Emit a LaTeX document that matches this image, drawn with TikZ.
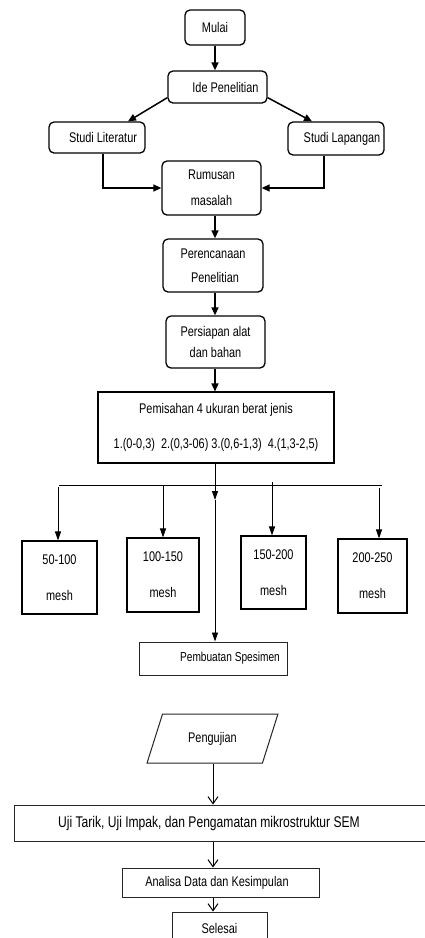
\documentclass[tikz,border=0pt]{standalone}
\usepackage{fontspec}
\setmainfont{Liberation Sans}[FakeStretch=0.78]
\usetikzlibrary{arrows.meta,shapes.geometric}
\begin{document}
\begin{tikzpicture}[x=1pt,y=-1pt,
  font=\fontsize{14}{17}\selectfont,
  rbox/.style={draw=black,line width=1.3pt,rounded corners=5pt,inner sep=0pt,align=center},
  sbox/.style={draw=black,line width=1.1pt,inner sep=0pt,align=center},
  tbox/.style={draw=black!85,line width=1pt,inner sep=0pt,align=center},
  farr/.style={line width=1.5pt,-{Triangle[length=8pt,width=7pt]}},
  barr/.style={line width=0.9pt,-{Triangle[length=9pt,width=6pt]}},
  varr/.style={line width=0.9pt,-{Straight Barb[length=7pt,width=10pt,line width=1pt]}}]
\useasboundingbox[fill=white] (0,0) rectangle (425,938);
% top part
\node[rbox,minimum width=60pt,minimum height=35pt] (mulai) at (215,27.5) {Mulai};
\node[rbox,minimum width=99pt,minimum height=32pt] (ide) at (217.5,87) {\hspace*{16pt}Ide Penelitian};
\node[rbox,minimum width=96pt,minimum height=31pt] (lit) at (97,137.5) {\hspace*{12pt}Studi Literatur};
\node[rbox,minimum width=96pt,minimum height=33pt] (lap) at (336,138.5) {\hspace*{12pt}Studi Lapangan};
\node[rbox,minimum width=99pt,minimum height=54pt] (rum) at (211.5,188) {Rumusan\\[9pt]masalah};
\node[rbox,minimum width=100pt,minimum height=53pt] (per) at (213,265.5) {Perencanaan\\[7pt]\hspace*{4pt}Penelitian};
\node[rbox,minimum width=99pt,minimum height=52pt] (pers) at (215.5,342) {Persiapan alat\\[4pt]dan bahan};
\node[sbox,minimum width=236pt,minimum height=71pt] (pem) at (216,427.5)
  {Pemisahan 4 ukuran berat jenis\\[18pt]1.(0-0,3)\ \ 2.(0,3-06) 3.(0,6-1,3)\ \ 4.(1,3-2,5)};
% mesh boxes
\node[sbox,minimum width=75pt,minimum height=73pt] (b1) at (59.5,577.5) {50-100\\[19pt]mesh};
\node[sbox,minimum width=72pt,minimum height=74pt] (b2) at (163,575) {100-150\\[19pt]mesh};
\node[sbox,minimum width=65pt,minimum height=73pt] (b3) at (273.5,572.5) {150-200\\[19pt]mesh};
\node[sbox,minimum width=69pt,minimum height=74pt] (b4) at (372.5,576) {200-250\\[19pt]mesh};
\node[tbox,minimum width=148pt,minimum height=33pt,font=\fontsize{13}{16}\selectfont] (pemb) at (213,658.5) {\hspace*{34pt}Pembuatan Spesimen};
% lower part
\node[tbox,trapezium,trapezium left angle=60,trapezium right angle=120,trapezium stretches=true,
  minimum width=131pt,minimum height=49pt] (peng) at (212.5,738.5) {Pengujian};
\node[tbox,minimum width=418pt,minimum height=36pt,font=\fontsize{15.5}{18}\selectfont] (uji) at (223,823)
  {Uji Tarik, Uji Impak, dan Pengamatan mikrostruktur SEM\hspace*{28pt}};
\node[tbox,minimum width=197pt,minimum height=29pt] (ana) at (220.5,882.5) {Analisa Data dan Kesimpulan\hspace*{7pt}};
\node[tbox,minimum width=95pt,minimum height=33pt] (sel) at (219.5,928.5) {Selesai};
% connectors top
\draw[farr] (mulai.south) -- (mulai.south |- ide.north);
\draw[farr] ([yshift=6pt]ide.south west) -- ([xshift=31pt]lit.north);
\draw[farr] ([yshift=6pt]ide.south east) -- ([xshift=-24pt]lap.north);
\draw[farr] ([xshift=6pt]lit.south) |- (rum.west);
\draw[farr] ([xshift=-12pt]lap.south) |- (rum.east);
\coordinate (c1) at (215,0);
\draw[farr] (rum.south -| c1) -- (per.north -| c1);
\draw[farr] (per.south -| c1) -- (pers.north -| c1);
\draw[farr] (pers.south -| c1) -- (pem.north -| c1);
% distribution
\coordinate (hl) at (59,485);
\coordinate (hr) at (382,485);
\coordinate (mid) at (215,500);
\draw[line width=0.9pt] (hl) -- (hr);
\draw[barr] (pem.south -| c1) -- (mid);
\draw[barr] (mid) -- (pemb.north -| c1);
\coordinate (h1) at (58,487);
\coordinate (h2) at (163,485);
\coordinate (h3) at (272,482);
\coordinate (h4) at (379,488);
\draw[barr] (h1) -- (h1 |- b1.north);
\draw[barr] (h2) -- (h2 |- b2.north);
\draw[barr] (h3) -- (h3 |- b3.north);
\draw[barr] (h4) -- (h4 |- b4.north);
% connectors bottom
\coordinate (c2) at (213,0);
\draw[varr] (peng.south -| c2) -- (uji.north -| c2);
\draw[varr] (uji.south -| c2) -- (ana.north -| c2);
\draw[varr] (ana.south -| c2) -- (sel.north -| c2);
\end{tikzpicture}
\end{document}
